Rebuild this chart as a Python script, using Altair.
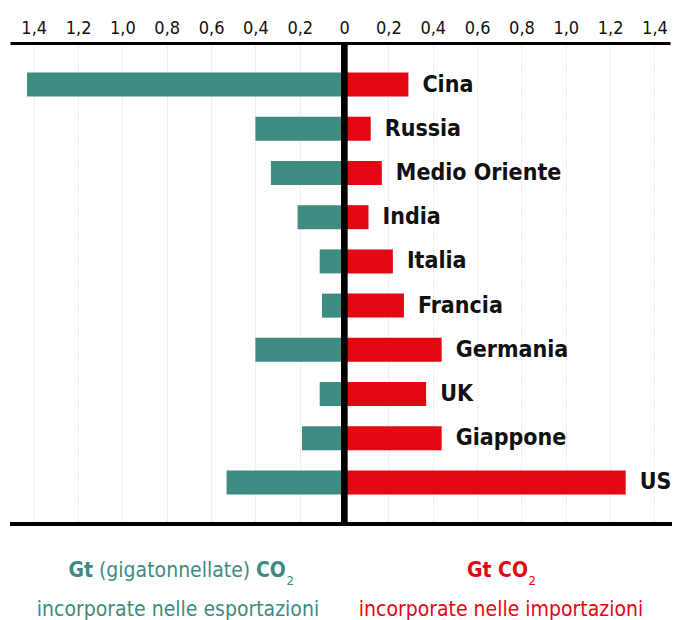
import altair as alt
import pandas as pd

countries = ["Cina", "Russia", "Medio Oriente", "India", "Italia",
             "Francia", "Germania", "UK", "Giappone", "US"]
exports = [1.43, 0.40, 0.33, 0.21, 0.11, 0.10, 0.40, 0.11, 0.19, 0.53]
imports = [0.29, 0.12, 0.17, 0.11, 0.22, 0.27, 0.44, 0.37, 0.44, 1.27]
tick_values = [-1.4, -1.2, -1.0, -0.8, -0.6, -0.4, -0.2, 0,
               0.2, 0.4, 0.6, 0.8, 1.0, 1.2, 1.4]

left_title = ["Gt", "(gigatonnellate)", "CO", "2", "incorporate nelle esportazioni"]
right_title = ["Gt CO", "2", "incorporate nelle importazioni"]

TEAL = "#3e8b81"
RED = "#e30613"
FONT = "DejaVu Sans Condensed, DejaVu Sans, sans-serif"

W, H = 660, 481

df = pd.DataFrame({
    "country": countries,
    "exp_neg": [-v for v in exports],
    "imp": imports,
    "zero": [0] * len(countries),
})

xscale = alt.Scale(domain=[-1.507, 1.47], nice=False, zero=False)
yscale = alt.Scale(paddingInner=0.457, paddingOuter=0.667)
yenc = alt.Y("country:N", sort=countries, scale=yscale, axis=None)

xaxis = alt.Axis(
    orient="top", values=tick_values, ticks=False, tickSize=0,
    labelExpr="datum.value == 0 ? '0' : replace(format(abs(datum.value), '.1f'), '.', ',')",
    domainColor="black", domainWidth=3.2,
    grid=True, gridColor="#d0d0d0", gridDash=[1, 2], gridWidth=1,
    labelFont=FONT, labelFontSize=18, labelPadding=10, labelBaseline="alphabetic",
    labelColor="#111111", title=None,
)

base = alt.Chart(df)

left_bars = base.mark_bar(color=TEAL).encode(
    x=alt.X("exp_neg:Q", scale=xscale, axis=xaxis),
    x2="zero:Q",
    y=yenc,
)
right_bars = base.mark_bar(color=RED).encode(
    x=alt.X("zero:Q", scale=xscale, axis=xaxis),
    x2="imp:Q",
    y=yenc,
)
zero_line = base.mark_rule(color="black", strokeWidth=6).encode(
    x=alt.X("zero:Q", scale=xscale, axis=xaxis)
)
bottom_line = base.mark_rule(color="black", strokeWidth=3.2).encode(
    x=alt.value(0), x2=alt.value(W + 2), y=alt.value(H)
)
labels = base.mark_text(
    align="left", baseline="middle", dx=14, font=FONT, fontSize=23,
    fontWeight="bold", color="#111111"
).encode(
    x=alt.X("imp:Q", scale=xscale, axis=xaxis),
    y=yenc,
    text="country:N",
)


def txt(s, x, y, color, size=21, bold=False, align="left"):
    return alt.Chart(pd.DataFrame({"t": [s]})).mark_text(
        align=align, baseline="alphabetic", font=FONT, fontSize=size,
        fontWeight="bold" if bold else "normal", color=color
    ).encode(x=alt.value(x), y=alt.value(y), text="t:N")


y1, y2 = 534, 573
annots = [
    txt(left_title[0], 58.5, y1, TEAL, bold=True),
    txt(left_title[1], 89, y1, TEAL),
    txt(left_title[2], 246, y1, TEAL, bold=True),
    txt(left_title[3], 276.5, y1 + 8, TEAL, size=13),
    txt(left_title[4], 168, y2, TEAL, align="center"),
    txt(right_title[0], 457, y1, RED, bold=True),
    txt(right_title[1], 518.5, y1 + 8, RED, size=13),
    txt(right_title[2], 491, y2, RED, align="center"),
]

chart = alt.layer(
    left_bars, right_bars, zero_line, bottom_line, labels, *annots
).properties(
    width=W, height=H,
    autosize=alt.AutoSizeParams(type="none"),
    padding={"left": 10, "top": 43, "right": 11, "bottom": 96},
).configure_view(stroke=None)

chart.save("out.html", embed_options={"renderer": "svg", "actions": False})
